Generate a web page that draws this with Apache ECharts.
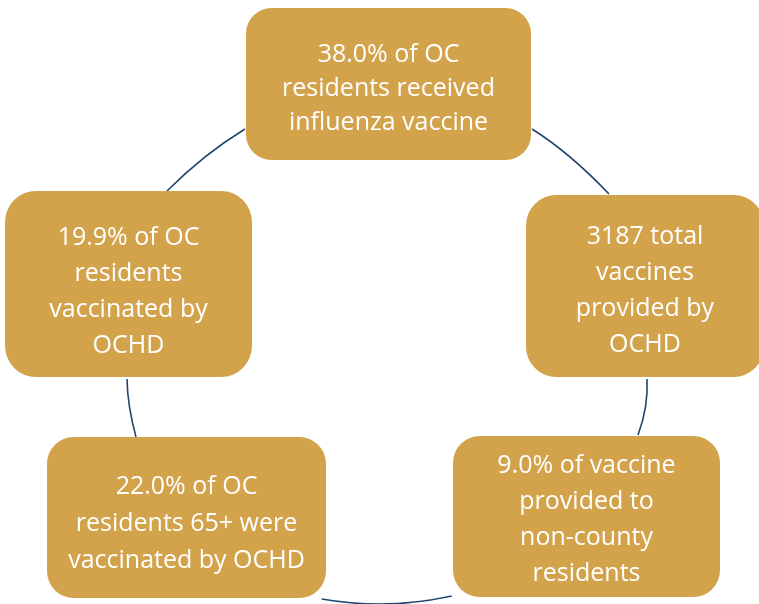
<!DOCTYPE html>
<html>
<head>
<meta charset="utf-8">
<script src="https://cdn.jsdelivr.net/npm/echarts@6/dist/echarts.min.js"></script>
<style>
html,body{margin:0;padding:0;background:#fff;}
#chart{width:759px;height:604px;}
</style>
</head>
<body>
<div id="chart"></div>
<script>
// ---- data (text content of the cycle nodes) ----
const labels = [
  "38.0% of OC\nresidents received\ninfluenza vaccine",
  "3187 total\nvaccines\nprovided by\nOCHD",
  "9.0% of vaccine\nprovided to\nnon-county\nresidents",
  "22.0% of OC\nresidents 65+ were\nvaccinated by OCHD",
  "19.9% of OC\nresidents\nvaccinated by\nOCHD"
];

// ---- layout (pixel frame of the diagram) ----
const boxes = [            // [left, top, right, bottom]
  [246, 8, 531, 160],
  [526, 195, 764, 377],
  [453, 436, 720, 597],
  [47, 437, 326, 598],
  [5, 191, 252, 377]
];
const lineHeights = [34, 36, 36, 37, 36];
const textShift = [5, 5, 3, 6, 8];
const connectors = [       // [start, middle, end]
  [[245, 129], [205, 157], [167, 191]],
  [[532, 129], [570, 157], [609, 194]],
  [[647, 379], [645.5, 407], [638, 435]],
  [[451.7, 596], [387, 604], [321.7, 599]],
  [[136, 437], [129.5, 407], [127, 379]]
];

const FILL = '#D3A34C';
const LINE = '#1F4470';

const chart = echarts.init(document.getElementById('chart'));
chart.setOption({
  animation: false,
  grid: {left: 0, right: 0, top: 0, bottom: 0},
  xAxis: {type: 'value', min: 0, max: 759, show: false},
  yAxis: {type: 'value', min: 0, max: 604, inverse: true, show: false},
  series: [
    {
      type: 'custom',
      clip: false,
      z: 1,
      data: connectors.map((c, i) => [i]),
      renderItem: function (params, api) {
        const seg = connectors[params.dataIndex];
        const s = api.coord(seg[0]), m = api.coord(seg[1]), e = api.coord(seg[2]);
        const cx = 2 * m[0] - (s[0] + e[0]) / 2;
        const cy = 2 * m[1] - (s[1] + e[1]) / 2;
        return {
          type: 'bezierCurve',
          shape: {x1: s[0], y1: s[1], x2: e[0], y2: e[1], cpx1: cx, cpy1: cy},
          style: {stroke: LINE, lineWidth: 1.6, fill: null}
        };
      }
    },
    {
      type: 'custom',
      clip: false,
      z: 2,
      data: labels.map((t, i) => [i]),
      renderItem: function (params, api) {
        const i = params.dataIndex;
        const b = boxes[i];
        const p0 = api.coord([b[0], b[1]]);
        const p1 = api.coord([b[2], b[3]]);
        const w = p1[0] - p0[0], h = p1[1] - p0[1];
        const r = Math.min(w, h) * 0.1667;
        return {
          type: 'group',
          children: [
            {
              type: 'rect',
              shape: {x: p0[0], y: p0[1], width: w, height: h, r: r},
              style: {fill: FILL, stroke: null}
            },
            {
              type: 'text',
              x: p0[0] + w / 2,
              y: p0[1] + h / 2 + textShift[i],
              style: {
                text: labels[i],
                fill: '#ffffff',
                fontSize: 25,
                fontFamily: '"Open Sans", "Noto Sans", sans-serif',
                align: 'center',
                verticalAlign: 'middle',
                lineHeight: lineHeights[i]
              }
            }
          ]
        };
      }
    }
  ]
});
</script>
</body>
</html>
